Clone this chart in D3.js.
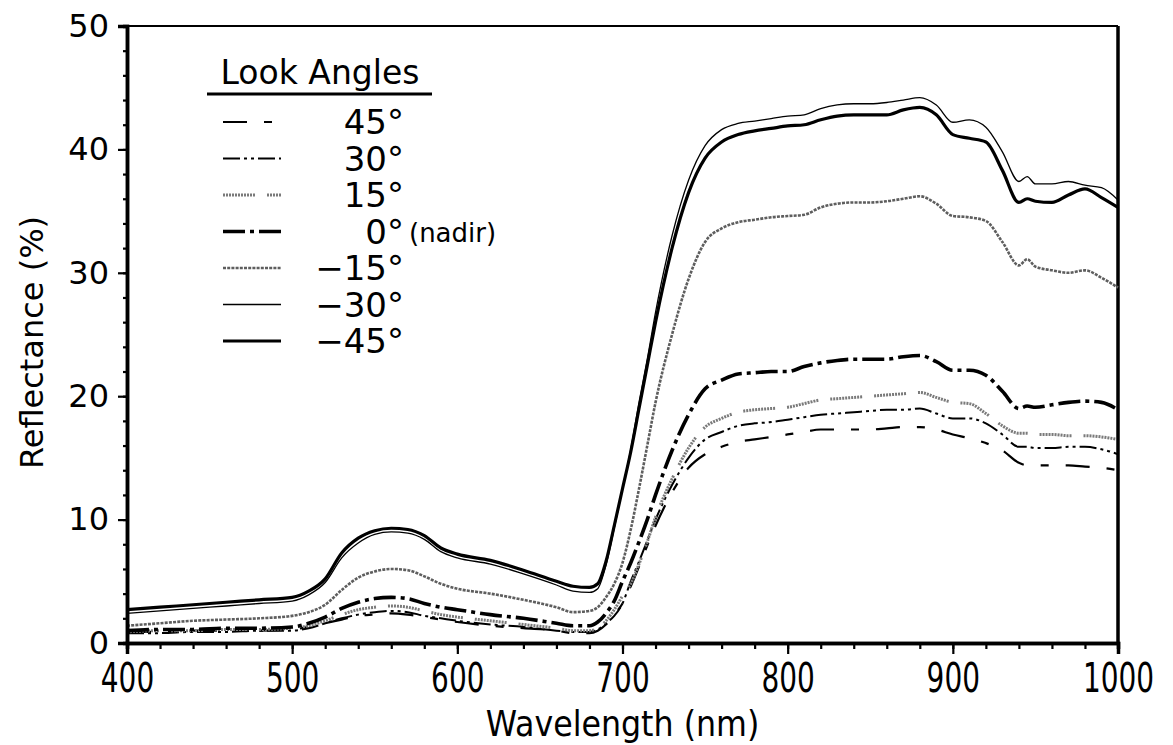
<!DOCTYPE html>
<html><head><meta charset="utf-8">
<script src="https://cdn.jsdelivr.net/npm/d3@7"></script>
<style>body{margin:0;background:#fff}svg{display:block}</style>
</head><body>
<svg id="c" width="1173" height="745"></svg>
<script>
const wavelengths = [400,420,440,460,480,500,510,520,530,540,550,560,570,580,590,600,620,640,660,670,680,685,690,695,700,705,710,715,720,730,740,750,760,770,780,790,800,810,820,830,840,850,860,870,880,890,900,910,920,930,940,945,950,960,970,980,990,1000];
const look45  = [0.9,0.9,1.0,1.0,1.0,1.1,1.3,1.6,1.9,2.2,2.3,2.4,2.3,2.1,1.9,1.7,1.4,1.2,1.0,0.8,0.8,1.0,1.5,2.3,3.2,4.6,6.2,7.9,9.5,12.2,14.2,15.3,15.9,16.3,16.5,16.7,16.9,17.1,17.3,17.3,17.3,17.3,17.4,17.5,17.5,17.3,16.9,16.6,16.2,15.6,14.6,14.4,14.4,14.4,14.4,14.3,14.2,14.0];
const look30  = [0.8,0.8,0.9,0.9,1.0,1.0,1.2,1.6,2.0,2.3,2.5,2.6,2.5,2.2,2.0,1.8,1.5,1.3,1.0,0.9,0.9,1.1,1.6,2.2,3.2,5.0,6.6,8.3,10.0,12.8,15.0,16.5,17.1,17.6,17.8,17.9,18.1,18.3,18.5,18.6,18.7,18.8,18.9,18.9,19.0,18.6,18.2,18.2,17.8,16.9,15.9,15.9,15.8,15.8,15.9,15.9,15.7,15.3];
const look15  = [0.9,1.0,1.0,1.1,1.1,1.2,1.4,1.8,2.3,2.7,2.9,3.0,2.9,2.6,2.3,2.1,1.8,1.5,1.2,1.0,1.0,1.2,1.8,2.7,3.8,4.8,6.4,8.2,10.2,13.3,15.8,17.5,18.2,18.7,18.9,19.0,19.1,19.4,19.7,19.8,19.9,20.0,20.1,20.2,20.3,19.9,19.5,19.4,18.6,17.6,17.0,17.0,16.9,16.9,16.8,16.8,16.7,16.5];
const look0   = [1.0,1.1,1.1,1.2,1.2,1.3,1.6,2.1,2.8,3.3,3.6,3.7,3.6,3.2,2.9,2.7,2.3,2.0,1.6,1.4,1.4,1.7,2.4,3.4,5.0,6.5,8.2,10.0,12.0,15.6,18.5,20.6,21.3,21.8,21.9,22.0,22.0,22.4,22.7,22.9,23.0,23.0,23.0,23.2,23.3,22.8,22.1,22.1,21.7,20.4,19.0,19.2,19.1,19.3,19.5,19.6,19.5,18.9];
const lookM15 = [1.4,1.6,1.8,1.9,2.0,2.2,2.5,3.1,4.3,5.3,5.8,6.0,5.9,5.4,4.8,4.4,4.0,3.5,2.9,2.5,2.6,2.9,3.7,4.8,6.5,9.2,12.5,16.0,19.5,25.0,29.5,32.5,33.6,34.1,34.3,34.5,34.6,34.7,35.3,35.6,35.7,35.7,35.8,36.0,36.2,35.6,34.6,34.5,34.2,32.5,30.6,31.1,30.5,30.2,30.0,30.2,29.6,28.8];
const lookM30 = [2.4,2.6,2.8,3.0,3.2,3.4,3.9,4.9,6.9,8.1,8.8,9.0,8.9,8.4,7.4,6.9,6.4,5.6,4.7,4.2,4.1,4.4,6.3,9.3,12.5,15.7,19.5,23.0,26.8,33.0,37.5,40.3,41.6,42.1,42.3,42.5,42.7,42.8,43.3,43.6,43.7,43.7,43.8,44.0,44.2,43.6,42.2,42.4,41.8,39.8,37.4,37.8,37.2,37.2,37.4,37.1,36.9,35.9];
const lookM45 = [2.7,2.9,3.1,3.3,3.5,3.7,4.2,5.2,7.3,8.5,9.1,9.3,9.2,8.7,7.7,7.2,6.7,5.9,5.0,4.6,4.5,4.8,6.6,9.5,12.5,15.5,19.0,22.5,26.0,32.0,36.5,39.3,40.6,41.2,41.5,41.7,41.9,42.0,42.4,42.7,42.8,42.8,42.8,43.2,43.4,42.8,41.2,40.9,40.6,38.3,35.7,36.0,35.8,35.7,36.3,36.8,36.1,35.3];
const legendLabels = ["45°","30°","15°","0°","\u221215°","\u221230°","\u221245°"];
const xTickValues = [400,500,600,700,800,900,1000];
const yTickValues = [0,10,20,30,40,50];

const seriesValues = [look45, look30, look15, look0, lookM15, lookM30, lookM45];
const styles = [
  {stroke:"#000", width:2.2, dash:"24,17,8,17"},
  {stroke:"#000", width:2.0, dash:"17,4,3,4,3,4"},
  {stroke:"#7a7a7a", width:3.0, dash:"2,1,2,1,2,1,2,1,2,1,2,1,2,1,2,1,2,1,2,1,2,12"},
  {stroke:"#000", width:3.6, dash:"22,5,4,5"},
  {stroke:"#5e5e5e", width:2.6, dash:"3,1.2"},
  {stroke:"#000", width:1.3, dash:null},
  {stroke:"#000", width:3.2, dash:null}
];

const svg = d3.select("#c");
const x = d3.scaleLinear().domain([400,1000]).range([127,1118]);
const y = d3.scaleLinear().domain([0,50]).range([643,26]);
const FONT = "'DejaVu Sans', sans-serif";

// frame top/right
svg.append("line").attr("x1",127).attr("x2",1118).attr("y1",y(50)).attr("y2",y(50)).attr("stroke","#000").attr("stroke-width",2);
svg.append("line").attr("x1",x(1000)).attr("x2",x(1000)).attr("y1",y(50)).attr("y2",y(0)).attr("stroke","#000").attr("stroke-width",3.5);

// lines
const line = d3.line().x((d,i)=>x(wavelengths[i])).y(d=>y(d)).curve(d3.curveMonotoneX);
seriesValues.forEach((vals,k)=>{
  const st = styles[k];
  svg.append("path").datum(vals).attr("d",line).attr("fill","none")
    .attr("stroke",st.stroke).attr("stroke-width",st.width)
    .attr("stroke-dasharray",st.dash).attr("stroke-linejoin","round");
});

// x axis
const gxMinor = svg.append("g").attr("transform",`translate(0,${y(0)})`)
  .call(d3.axisBottom(x).tickValues(d3.range(400,1001,20)).tickSize(6).tickFormat(""));
const gx = svg.append("g").attr("transform",`translate(0,${y(0)})`)
  .call(d3.axisBottom(x).tickValues(xTickValues).tickSize(11).tickPadding(10).tickFormat(d3.format("d")));
[gxMinor,gx].forEach(g=>{
  g.select(".domain").attr("stroke","#000").attr("stroke-width",3.5);
  g.selectAll(".tick line").attr("stroke","#000").attr("stroke-width",2.2);
});
gx.selectAll(".tick text").attr("font-family",FONT).attr("font-size",40).attr("fill","#000")
  .attr("transform","scale(0.7,1)");

// y axis
const gyMinor = svg.append("g").attr("transform",`translate(${x(400)},0)`)
  .call(d3.axisLeft(y).tickValues(d3.range(0,51,2)).tickSize(4).tickFormat(""));
const gy = svg.append("g").attr("transform",`translate(${x(400)},0)`)
  .call(d3.axisLeft(y).tickValues(yTickValues).tickSize(9).tickPadding(9).tickFormat(d3.format("d")));
[gyMinor,gy].forEach(g=>{
  g.select(".domain").attr("stroke","#000").attr("stroke-width",3.5);
  g.selectAll(".tick line").attr("stroke","#000").attr("stroke-width",2.2);
});
gy.selectAll(".tick text").attr("font-family",FONT).attr("font-size",32).attr("fill","#000");

// axis titles
svg.append("text").attr("transform",`translate(${(127+1118)/2},736) scale(0.88,1)`)
  .attr("text-anchor","middle").attr("font-family",FONT).attr("font-size",36).text("Wavelength (nm)");
svg.append("text").attr("transform",`translate(43,${y(25)+8}) rotate(-90)`)
  .attr("text-anchor","middle").attr("font-family",FONT).attr("font-size",32).text("Reflectance (%)");

// legend
const lg = svg.append("g");
lg.append("text").attr("x",320).attr("y",84).attr("text-anchor","middle")
  .attr("font-family",FONT).attr("font-size",33).text("Look Angles");
lg.append("line").attr("x1",207).attr("x2",432).attr("y1",94).attr("y2",94).attr("stroke","#000").attr("stroke-width",3);
legendLabels.forEach((lab,k)=>{
  const cy = 122 + k*36.5;
  const st = styles[k];
  lg.append("line").attr("x1",223).attr("x2",281).attr("y1",cy).attr("y2",cy)
    .attr("stroke",st.stroke).attr("stroke-width",st.width).attr("stroke-dasharray",st.dash);
  lg.append("text").attr("x",404).attr("y",cy+12).attr("text-anchor","end")
    .attr("font-family",FONT).attr("font-size",34).text(lab);
  if (k===3) {
    lg.append("text").attr("x",409).attr("y",cy+10).attr("font-family",FONT).attr("font-size",26).text("(nadir)");
  }
});
</script>
</body></html>
